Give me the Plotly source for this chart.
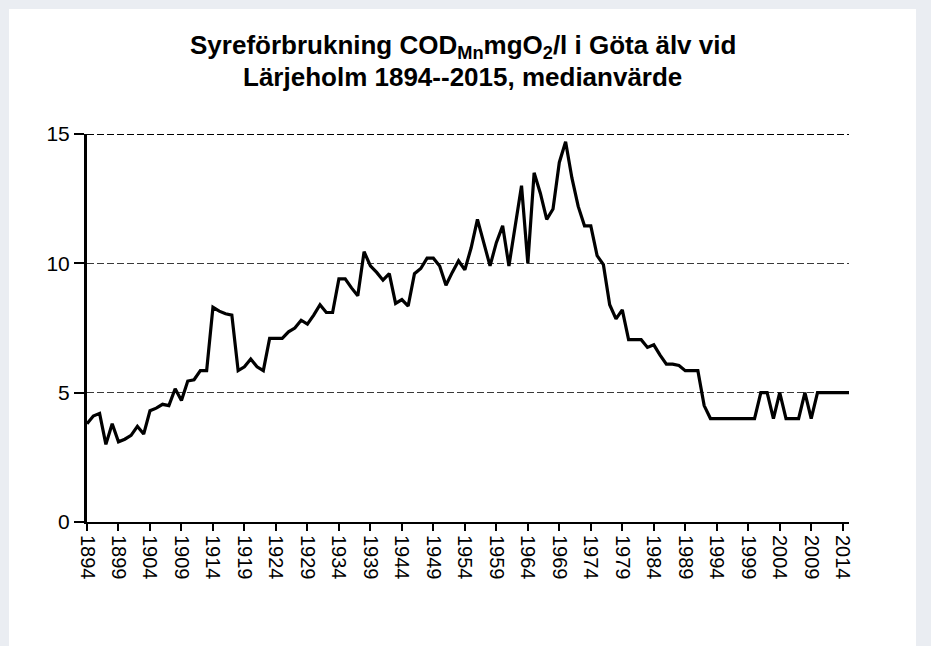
import plotly.graph_objects as go

years = list(range(1894, 2016))
cod_values = [
    3.8, 4.1, 4.2, 3.0, 3.8, 3.1, 3.2, 3.35, 3.7, 3.4,          # 1894-1903
    4.3, 4.4, 4.55, 4.5, 5.15, 4.7, 5.45, 5.5, 5.85, 5.85,      # 1904-1913
    8.3, 8.15, 8.05, 8.0, 5.85, 6.0, 6.3, 6.0, 5.85, 7.1,       # 1914-1923
    7.1, 7.1, 7.35, 7.5, 7.8, 7.65, 8.0, 8.4, 8.1, 8.1,         # 1924-1933
    9.4, 9.4, 9.05, 8.75, 10.45, 9.9, 9.65, 9.35, 9.6, 8.45,    # 1934-1943
    8.6, 8.35, 9.6, 9.8, 10.2, 10.2, 9.9, 9.15, 9.65, 10.1,     # 1944-1953
    9.75, 10.6, 11.7, 10.8, 9.9, 10.8, 11.45, 9.9, 11.45, 13.0, # 1954-1963
    10.0, 13.5, 12.7, 11.7, 12.1, 13.9, 14.7, 13.3, 12.2, 11.45,# 1964-1973
    11.45, 10.3, 9.95, 8.4, 7.85, 8.2, 7.05, 7.05, 7.05, 6.75,  # 1974-1983
    6.85, 6.45, 6.1, 6.1, 6.05, 5.85, 5.85, 5.85, 4.5, 4.0,     # 1984-1993
    4.0, 4.0, 4.0, 4.0, 4.0, 4.0, 4.0, 5.0, 5.0, 4.0,           # 1994-2003
    5.0, 4.0, 4.0, 4.0, 5.0, 4.0, 5.0, 5.0, 5.0, 5.0,           # 2004-2013
    5.0, 5.0,                                                   # 2014-2015
]
x_tick_years = list(range(1894, 2015, 5))
x_tick_labels = [str(y) for y in x_tick_years]
y_tick_values = [0, 5, 10, 15]
y_tick_labels = ["0", "5", "10", "15"]

title_lines = [
    "Syreförbrukning COD<sub>Mn</sub>mgO<sub>2</sub>/l i Göta älv vid",
    "Lärjeholm 1894--2015, medianvärde",
]

W, H = 931, 646
ML, MR, MT, MB = 87, 82, 134, 124
pw, ph = W - ML - MR, H - MT - MB

def px_x(p):
    return (p - ML) / pw

def px_y(p):
    return (H - MB - p) / ph

fig = go.Figure()
fig.add_trace(go.Scatter(
    x=years, y=cod_values, mode="lines",
    line=dict(color="black", width=3.2),
    showlegend=False, hoverinfo="x+y",
))

shapes = [
    # page frame (white card on light grey page)
    dict(type="rect", xref="paper", yref="paper",
         x0=px_x(9), x1=px_x(916), y0=px_y(650), y1=px_y(9),
         fillcolor="white", line=dict(width=0), layer="below"),
    # heavier top grid line
    dict(type="line", xref="paper", yref="y", x0=0, x1=1,
         y0=max(y_tick_values), y1=max(y_tick_values),
         line=dict(color="black", width=2, dash="7px,3px"), layer="above"),
]

title_font = dict(size=26, family="Liberation Sans, Arial, sans-serif",
                  color="black", weight="bold")
annotations = [
    dict(text=title_lines[0], xref="paper", yref="paper",
         x=px_x(463), y=px_y(47), xanchor="center", yanchor="middle",
         showarrow=False, font=title_font),
    dict(text=title_lines[1], xref="paper", yref="paper",
         x=px_x(462), y=px_y(77), xanchor="center", yanchor="middle",
         showarrow=False, font=title_font),
]

fig.update_layout(
    width=W, height=H,
    margin=dict(l=ML, r=MR, t=MT, b=MB, pad=0),
    paper_bgcolor="#eaedf2",
    plot_bgcolor="white",
    font=dict(family="Liberation Sans, Arial, sans-serif", color="black"),
    shapes=shapes,
    annotations=annotations,
    xaxis=dict(
        range=[1894, 2015], showgrid=False, zeroline=False,
        showline=True, linecolor="black", linewidth=2,
        ticks="outside", ticklen=7, tickwidth=1.5, tickcolor="black",
        tickvals=x_tick_years, ticktext=x_tick_labels,
        tickangle=90, tickfont=dict(size=20, color="black"),
    ),
    yaxis=dict(
        range=[0, 15], showgrid=True, gridcolor="#3a3a3a", gridwidth=1,
        griddash="7px,3px", zeroline=False,
        showline=True, linecolor="black", linewidth=3,
        ticks="outside", ticklen=10, tickwidth=2, tickcolor="black",
        tickvals=y_tick_values, ticktext=y_tick_labels,
        tickfont=dict(size=21, color="black"),
    ),
)

fig.write_html(
    "out.html",
    config={"displayModeBar": False},
    post_script="document.body.style.margin='0';"
                "document.body.style.background='#eaedf2';",
)
